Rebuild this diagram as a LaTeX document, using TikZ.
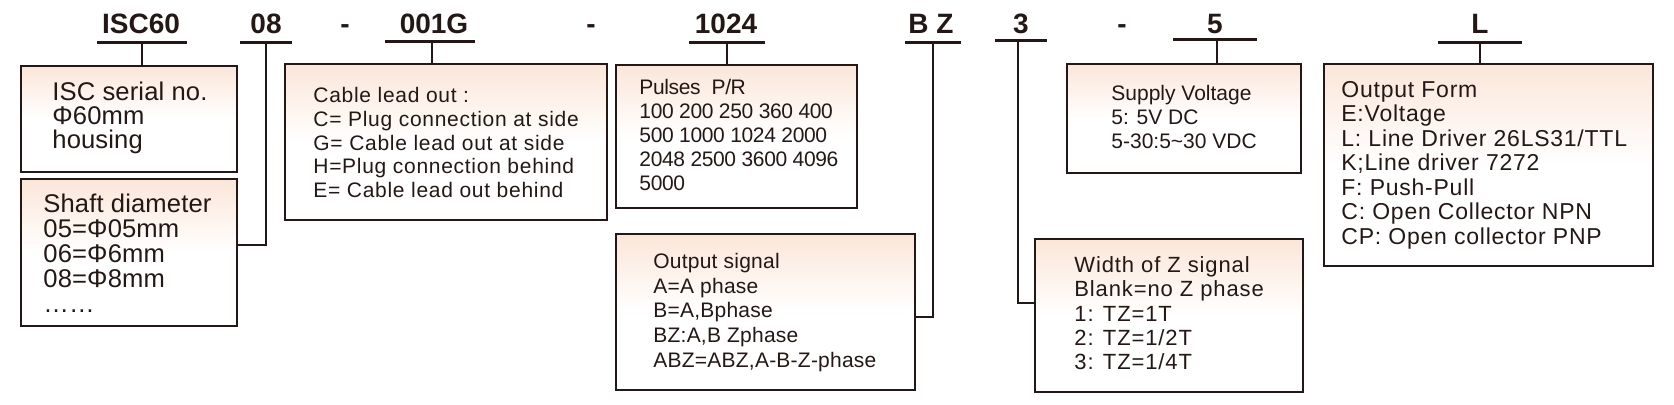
\documentclass[tikz,border=0pt]{standalone}
\usepackage{fontspec}
\setmainfont{Liberation Sans}
\definecolor{inkc}{HTML}{231815}
\definecolor{peach}{HTML}{FBE6D9}
\begin{document}
\begin{tikzpicture}[x=0.5pt,y=-0.5pt,
  ink/.style={draw=inkc, line width=1.1pt},
  box/.style={ink, rectangle, inner sep=0pt, outer sep=0pt, anchor=north west,
    top color=peach, bottom color=white, middle color=white},
  txt/.style={anchor=north west, inner sep=0pt, align=left, text=inkc},
  ttl/.style={anchor=base, inner sep=0pt, text=inkc,
    font=\bfseries\fontsize{14pt}{14pt}\selectfont},
  fs/.style n args={3}{font={\fontsize{#1}{#2}\selectfont\addfontfeatures{LetterSpace=#3}\lineskiplimit=-100pt}}
]
\newcommand{\fstrut}{\rule{0pt}{10pt}}
\path[use as bounding box, fill=white] (0,0) rectangle (1674,404);

% titles
\node[ttl] (t1) at (141,33) {ISC60};
\node[ttl] (t2) at (266,33) {08};
\node[ttl] (d1) at (345,33) {-};
\node[ttl] (t3) at (434,33) {001G};
\node[ttl] (d2) at (591,33) {-};
\node[ttl] (t4) at (726,33) {1024};
\node[ttl] (t5) at (931,33) {B Z};
\node[ttl] (t6) at (1021,33) {3};
\node[ttl] (d3) at (1122,33) {-};
\node[ttl] (t7) at (1215,33) {5};
\node[ttl] (t8) at (1480,33) {L};

% boxes
\node[box, minimum width=108pt, minimum height=53pt] (b1) at (21,65.7) {};
\node[box, minimum width=108pt, minimum height=73.5pt] (b2) at (21,179) {};
\node[box, minimum width=161pt, minimum height=78pt] (b3) at (285,64) {};
\node[box, minimum width=120.5pt, minimum height=71.5pt] (b4) at (616,65) {};
\node[box, minimum width=149.5pt, minimum height=78pt] (b5) at (616,234) {};
\node[box, minimum width=117pt, minimum height=54.5pt] (b6) at (1067,64) {};
\node[box, minimum width=134pt, minimum height=76.5pt] (b7) at (1035,239) {};
\node[box, minimum width=164.5pt, minimum height=101pt] (b8) at (1324,64) {};

% texts
\node[txt, fs={12.8pt}{12pt}{0.5}] (x1) at (52,80)
  {\fstrut ISC serial no.\\ Φ60mm\\ housing};
\node[txt, fs={12.8pt}{12.5pt}{0.5}] (x2) at (43,192)
  {\fstrut Shaft diameter\\ 05=Φ05mm\\ 06=Φ6mm\\ 08=Φ8mm\\ ……};
\node[txt, fs={10.5pt}{11.9pt}{3.4}] (x3) at (313,82)
  {\fstrut Cable lead out :\\ C= Plug connection at side\\ G= Cable lead out at side\\ H=Plug connection behind\\ E= Cable lead out behind};
\node[txt, fs={10.5pt}{12pt}{-1.7}] (x4) at (639,74)
  {\fstrut Pulses\ \ P/R\\ 100 200 250 360 400\\ 500 1000 1024 2000\\ 2048 2500 3600 4096\\ 5000};
\node[txt, fs={10.5pt}{12.35pt}{1.1}] (x5) at (653,248)
  {\fstrut Output signal\\ A=A phase\\ B=A,Bphase\\ BZ:A,B Zphase\\ ABZ=ABZ,A-B-Z-phase};
\node[txt, fs={10.5pt}{12pt}{0}] (x6) at (1111,80)
  {\fstrut Supply Voltage\\ 5: 5V DC\\ 5-30:5\textasciitilde 30 VDC};
\node[txt, fs={11pt}{12.15pt}{4}] (x7) at (1074,252)
  {\fstrut Width of Z signal\\ Blank=no Z phase\\ 1: TZ=1T\\ 2: TZ=1/2T\\ 3: TZ=1/4T};
\node[txt, fs={11.5pt}{12.25pt}{3.3}] (x8) at (1341,77)
  {\fstrut Output Form\\ E:Voltage\\ L: Line Driver 26LS31/TTL\\ K;Line driver 7272\\ F: Push-Pull\\ C: Open Collector NPN\\ CP: Open collector PNP};

% underline coordinates
\coordinate (u1l) at (97,42.5);   \coordinate (u1r) at (187,42.5);  \coordinate (u1) at (142,42.5);
\coordinate (u2l) at (240,42.5);  \coordinate (u2r) at (292,42.5);  \coordinate (u2) at (266,42.5);
\coordinate (u3l) at (385,41.5);  \coordinate (u3r) at (475,41.5);  \coordinate (u3) at (432,41.5);
\coordinate (u4l) at (689,42.5);  \coordinate (u4r) at (765,42.5);  \coordinate (u4) at (727,42.5);
\coordinate (u5l) at (905,42.5);  \coordinate (u5r) at (961,42.5);  \coordinate (u5) at (933,42.5);
\coordinate (u6l) at (995,40.5);  \coordinate (u6r) at (1047,40.5); \coordinate (u6) at (1018,40.5);
\coordinate (u7l) at (1173,39.5); \coordinate (u7r) at (1257,39.5); \coordinate (u7) at (1217,39.5);
\coordinate (u8l) at (1438,42.5); \coordinate (u8r) at (1522,42.5); \coordinate (u8) at (1480,42.5);
\coordinate (k2) at (237,245);
\coordinate (k5) at (915,317);
\coordinate (k7) at (1035,303);

\foreach \i in {1,...,8} { \draw[ink] (u\i l) -- (u\i r); }

% connectors
\draw[ink] (u1) -- (u1 |- b1.north);
\draw[ink] (u2) |- (k2);
\draw[ink] (u3) -- (u3 |- b3.north);
\draw[ink] (u4) -- (u4 |- b4.north);
\draw[ink] (u5) |- (k5);
\draw[ink] (u6) |- (k7);
\draw[ink] (u7) -- (u7 |- b6.north);
\draw[ink] (u8) -- (u8 |- b8.north);
\end{tikzpicture}
\end{document}
